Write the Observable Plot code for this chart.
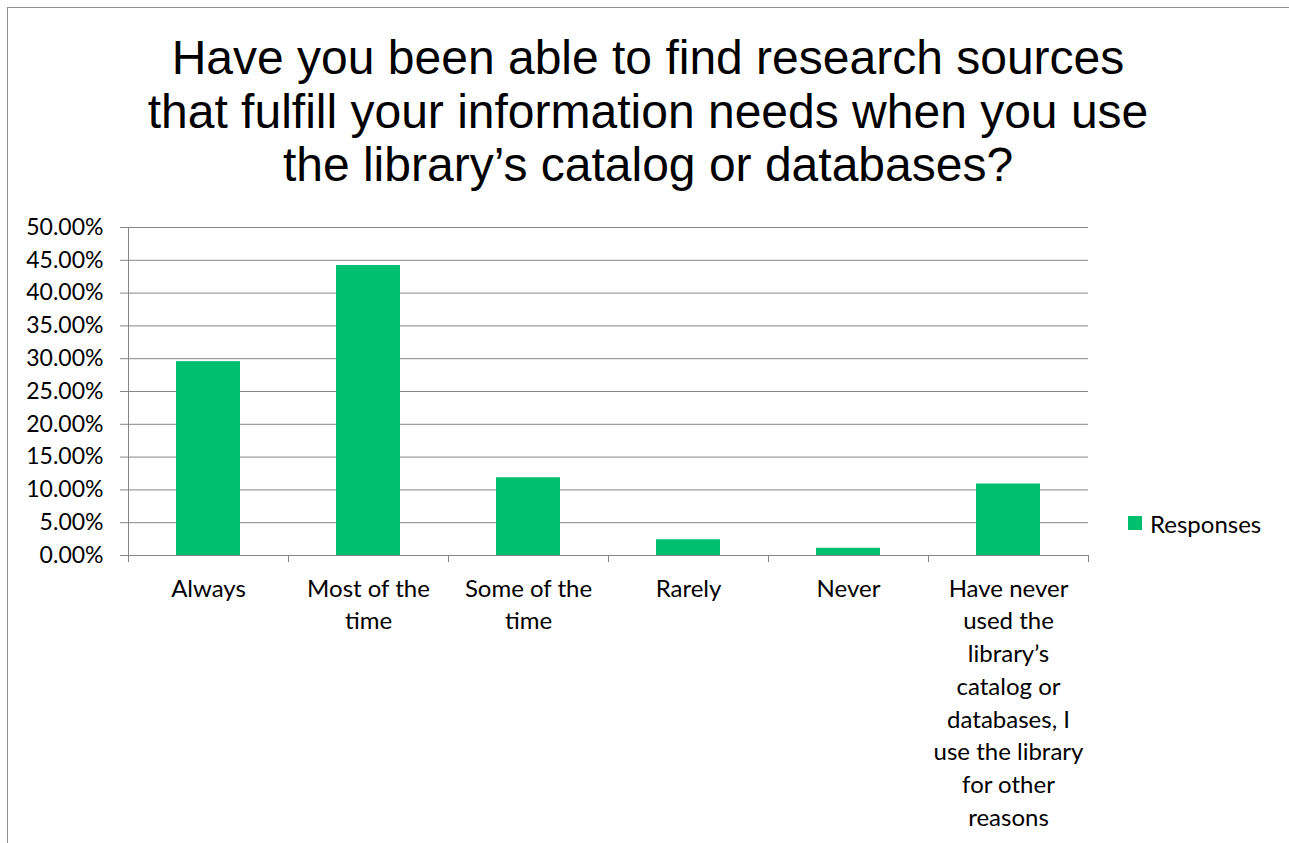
<!DOCTYPE html>
<html>
<head>
<meta charset="utf-8">
<script src="https://cdn.jsdelivr.net/npm/d3@7"></script>
<script src="https://cdn.jsdelivr.net/npm/@observablehq/plot@0.6"></script>
<style>
  html, body { margin: 0; padding: 0; background: #fff; }
  body { width: 1289px; height: 843px; position: relative; overflow: hidden; }
  #frame {
    position: absolute; left: 7px; top: 7px; width: 1290px; height: 850px;
    border-top: 1px solid #8f8f8f; border-left: 1px solid #8f8f8f;
  }
  #title {
    position: absolute; left: 7px; top: 31px; width: 1282px;
    text-align: center; font-family: "Liberation Sans", Arial, sans-serif;
    font-size: 48px; line-height: 53.5px; color: #000;
  }
  #chart { position: absolute; left: 0; top: 200px; }
  #legend {
    position: absolute; left: 1128px; top: 509px;
    font-family: Lato, "Open Sans", sans-serif; font-size: 24px; color: #000;
    display: flex; align-items: center; height: 28px;
  }
  #legend .swatch { width: 14px; height: 14px; background: #00BF6E; margin-right: 8px; }
</style>
</head>
<body>
<div id="frame"></div>
<div id="title">Have you been able to find research sources<br>that fulfill your information needs when you use<br>the library’s catalog or databases?</div>
<div id="chart"></div>
<div id="legend"><div class="swatch"></div><span>Responses</span></div>
<script>
// Survey answers and share of responses
const categories = [
  "Always",
  "Most of the time",
  "Some of the time",
  "Rarely",
  "Never",
  "Have never used the library’s catalog or databases, I use the library for other reasons"
];
const responses = [0.2955, 0.4420, 0.1185, 0.0240, 0.0110, 0.1090];
const tickLabels = [
  "Always",
  "Most of the\ntime",
  "Some of the\ntime",
  "Rarely",
  "Never",
  "Have never\nused the\nlibrary’s\ncatalog or\ndatabases, I\nuse the library\nfor other\nreasons"
];
const yTicks = [0, 0.05, 0.10, 0.15, 0.20, 0.25, 0.30, 0.35, 0.40, 0.45, 0.50];

// One unit per category on x; bars take the middle 40% of each slot
const rows = categories.map((c, i) => ({category: c, value: responses[i], x1: i + 0.3, x2: i + 0.7}));
const boundaries = d3.range(categories.length + 1);
const centers = categories.map((c, i) => i + 0.5);

const gray = "#868686";
const green = "#00BF6E";

const chart = Plot.plot({
  width: 1289,
  height: 643,
  marginTop: 27,
  marginBottom: 288,
  marginLeft: 128,
  marginRight: 201,
  style: {fontFamily: "Lato, 'Open Sans', sans-serif", fontSize: "24px", color: "#000", background: "transparent"},
  x: {domain: [0, categories.length], axis: null},
  y: {domain: [0, 0.5], axis: null},
  marks: [
    Plot.gridY(yTicks, {stroke: gray, strokeOpacity: 1, strokeWidth: 1}),
    Plot.rectY(rows, {x1: "x1", x2: "x2", y: "value", fill: green, title: "category"}),
    Plot.ruleX([0], {stroke: gray, strokeWidth: 1}),
    Plot.ruleY([0], {stroke: gray, strokeWidth: 1}),
    Plot.axisY({ticks: yTicks, tickFormat: d3.format(".2%"), tickSize: 8, tickPadding: 17,
                fontSize: 23, stroke: gray, strokeOpacity: 1, label: null, fill: "#000"}),
    Plot.axisX({ticks: boundaries, tickSize: 7, tickFormat: () => "", stroke: gray,
                strokeOpacity: 1, label: null}),
    Plot.axisX({ticks: centers, tickSize: 0, tickPadding: 18, lineHeight: 1.3625,
                tickFormat: (d) => tickLabels[Math.floor(d)], label: null, fill: "#000"})
  ]
});
document.getElementById("chart").appendChild(chart);
</script>
</body>
</html>
